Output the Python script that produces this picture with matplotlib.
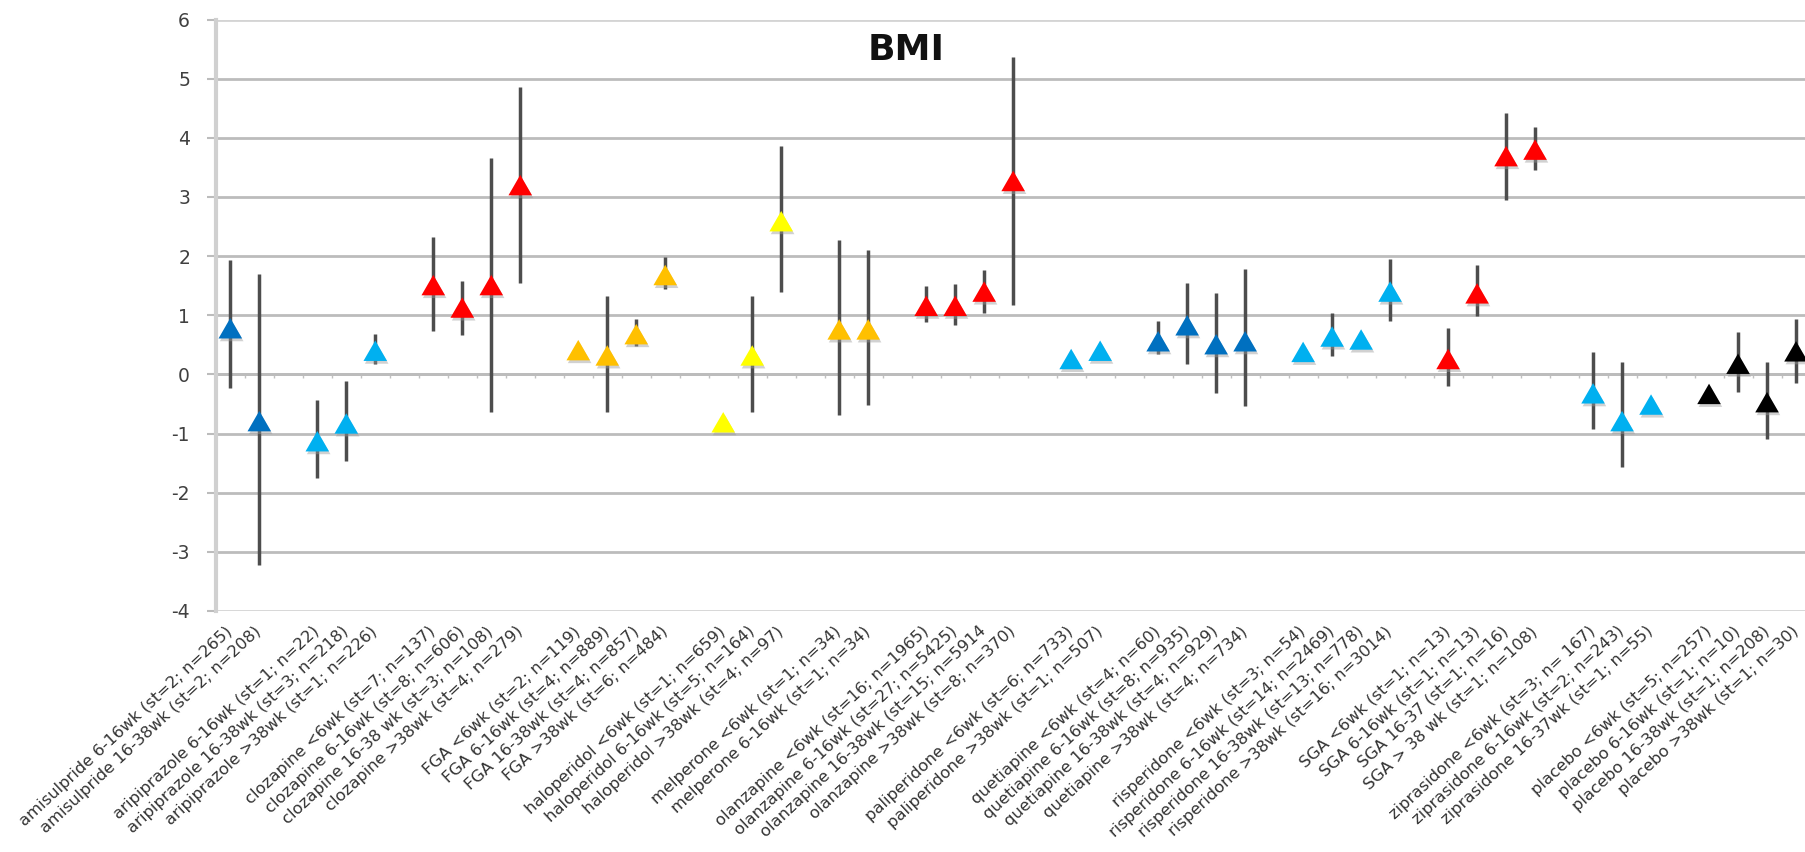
import numpy as np
import matplotlib
matplotlib.use("Agg")
import matplotlib.pyplot as plt
import matplotlib.patheffects as pe

nan = np.nan

# categories as in the sheet: empty entries are the spacer columns between drugs
labels = [
    "amisulpride 6-16wk (st=2; n=265)", "amisulpride 16-38wk (st=2; n=208)", "",
    "aripiprazole 6-16wk (st=1; n=22)", "aripiprazole 16-38wk (st=3; n=218)",
    "aripiprazole >38wk (st=1; n=226)", "",
    "clozapine <6wk (st=7; n=137)", "clozapine 6-16wk (st=8; n=606)",
    "clozapine 16-38 wk (st=3; n=108)", "clozapine >38wk (st=4; n=279)", "",
    "FGA <6wk (st=2; n=119)", "FGA 6-16wk (st=4; n=889)", "FGA 16-38wk (st=4; n=857)",
    "FGA >38wk (st=6; n=484)", "",
    "haloperidol <6wk (st=1; n=659)", "haloperidol 6-16wk (st=5; n=164)",
    "haloperidol >38wk (st=4; n=97)", "",
    "melperone <6wk (st=1; n=34)", "melperone 6-16wk (st=1; n=34)", "",
    "olanzapine <6wk (st=16; n=1965)", "olanzapine 6-16wk (st=27; n=5425)",
    "olanzapine 16-38wk (st=15; n=5914", "olanzapine >38wk (st=8; n=370)", "",
    "paliperidone <6wk (st=6; n=733)", "paliperidone >38wk (st=1; n=507)", "",
    "quetiapine <6wk (st=4; n=60)", "quetiapine 6-16wk (st=8; n=935)",
    "quetiapine 16-38wk (st=4; n=929)", "quetiapine >38wk (st=4; n=734)", "",
    "risperidone <6wk (st=3; n=54)", "risperidone 6-16wk (st=14; n=2469)",
    "risperidone 16-38wk (st=13; n=778)", "risperidone >38wk (st=16; n=3014)", "",
    "SGA <6wk (st=1; n=13)", "SGA 6-16wk (st=1; n=13)", "SGA 16-37 (st=1; n=16)",
    "SGA > 38 wk (st=1; n=108)", "",
    "ziprasidone <6wk (st=3; n= 167)", "ziprasidone 6-16wk (st=2; n=243)",
    "ziprasidone 16-37wk (st=1; n=55)", "",
    "placebo <6wk (st=5; n=257)", "placebo 6-16wk (st=1; n=10)",
    "placebo 16-38wk (st=1; n=208)", "placebo >38wk (st=1; n=30)",
]

bmi = [0.78, -0.79, nan,
       -1.13, -0.83, 0.40, nan,
       1.51, 1.13, 1.51, 3.20, nan,
       0.41, 0.32, 0.68, 1.68, nan,
       -0.81, 0.32, 2.59, nan,
       0.76, 0.76, nan,
       1.16, 1.16, 1.40, 3.27, nan,
       0.26, 0.40, nan,
       0.56, 0.83, 0.51, 0.56, nan,
       0.38, 0.64, 0.59, 1.40, nan,
       0.26, 1.37, 3.69, 3.80, nan,
       -0.32, -0.79, -0.51, nan,
       -0.33, 0.18, -0.47, 0.39]

ci_low = [-0.23, -3.23, nan,
          -1.76, -1.46, 0.18, nan,
          0.74, 0.66, -0.63, 1.54, nan,
          nan, -0.63, 0.48, 1.44, nan,
          nan, -0.63, 1.40, nan,
          -0.68, -0.51, nan,
          0.88, 0.84, 1.04, 1.18, nan,
          nan, nan, nan,
          0.34, 0.18, -0.31, -0.53, nan,
          nan, 0.31, nan, 0.91, nan,
          -0.19, 0.98, 2.95, 3.45, nan,
          -0.93, -1.56, nan, nan,
          nan, -0.29, -1.09, -0.15]

ci_high = [1.93, 1.70, nan,
           -0.44, -0.11, 0.68, nan,
           2.33, 1.58, 3.66, 4.86, nan,
           nan, 1.32, 0.94, 1.99, nan,
           nan, 1.32, 3.86, nan,
           2.27, 2.10, nan,
           1.50, 1.52, 1.76, 5.37, nan,
           nan, nan, nan,
           0.90, 1.54, 1.38, 1.79, nan,
           nan, 1.04, nan, 1.95, nan,
           0.79, 1.85, 4.42, 4.18, nan,
           0.38, 0.21, nan, nan,
           nan, 0.71, 0.21, 0.94]

drug_colors = {
    "amisulpride": "#0070C0", "aripiprazole": "#00B0F0", "clozapine": "#FF0000",
    "FGA": "#FFC000", "haloperidol": "#FFFF00", "melperone": "#FFC000",
    "olanzapine": "#FF0000", "paliperidone": "#00B0F0", "quetiapine": "#0070C0",
    "risperidone": "#00B0F0", "SGA": "#FF0000", "ziprasidone": "#00B0F0",
    "placebo": "#000000",
}

plt.rcParams["axes.unicode_minus"] = False

x = np.arange(len(labels))
bmi = np.array(bmi)
ci_low = np.array(ci_low)
ci_high = np.array(ci_high)
colors = [drug_colors[l.split()[0]] if l else "none" for l in labels]

fig = plt.figure(figsize=(18.06, 8.52), dpi=100)
ax = fig.add_axes([0.1195, 0.2829, 0.883, 0.6942])

for v in range(-4, 7):
    c = "#d4d4d4" if v in (-4, 6) else "#bcbcbc"
    ax.axhline(v, color=c, lw=2.0, zorder=1)

has_ci = ~np.isnan(ci_low)
ax.vlines(x[has_ci], ci_low[has_ci], ci_high[has_ci], color="#4d4d4d", lw=2.5, zorder=2)

tri = [(-1, -0.866), (1, -0.866), (0, 0.866)]
pts = ~np.isnan(bmi)
ax.scatter(x[pts], bmi[pts], s=17 ** 2, marker=tri,
           c=[colors[i] for i in x[pts]], linewidths=0, zorder=3,
           path_effects=[pe.SimplePatchShadow(offset=(1, -2), shadow_rgbFace="#9a9a9a", alpha=0.45),
                         pe.Normal()])

ax.set_xlim(-0.5, len(labels) - 0.5)
ax.set_ylim(-4, 6)
ax.set_yticks(range(-4, 7))
ax.tick_params(axis="y", length=6.5, width=1.5, color="#bcbcbc", pad=12,
               labelsize=13.5, labelcolor="#404040")

ax.set_xticks(x)
ax.set_xticklabels(labels, rotation=43, ha="right", va="center",
                   rotation_mode="anchor", fontsize=11.8, color="#333333")
ax.tick_params(axis="x", length=0, pad=13)

for side in ("top", "right", "bottom"):
    ax.spines[side].set_visible(False)
ax.spines["left"].set_color("#d0d0d0")
ax.spines["left"].set_linewidth(3)

# category axis crossing at zero, with ticks between the columns
sec = ax.secondary_xaxis(0.4)
sec.set_xticks(np.arange(-0.5, len(labels), 1.0))
sec.set_xticklabels([])
sec.tick_params(axis="x", direction="out", length=3, width=1, color="#c0c0c0")
sec.spines["bottom"].set_color("#bcbcbc")
sec.spines["bottom"].set_linewidth(2.0)

fig.text(0.5017, 0.941, "BMI", fontsize=26, fontweight="bold",
         ha="center", va="center", color="#111111")

fig.savefig("out.png", dpi=100)
